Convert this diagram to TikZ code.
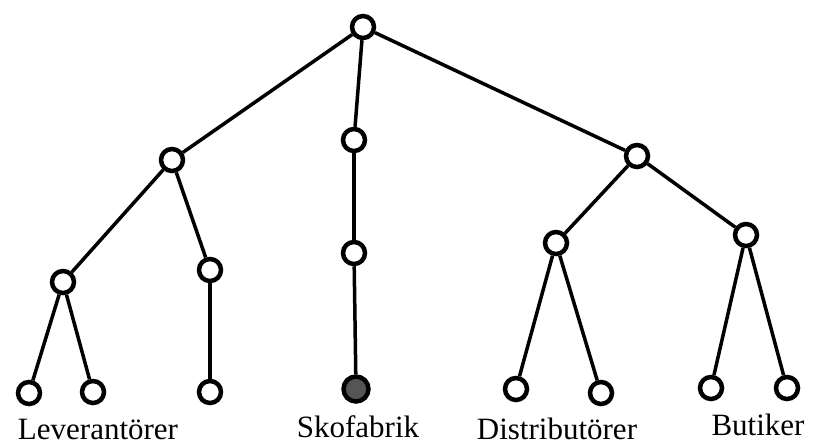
\documentclass[tikz,border=0pt]{standalone}
\usepackage{fontspec}
\setmainfont{Liberation Serif}
\definecolor{fabrikgray}{RGB}{85,85,85}

\begin{document}
\begin{tikzpicture}[x=1pt,y=-1pt,
    knot/.style={circle,draw,line width=4.5pt,fill=white,minimum size=22pt,inner sep=0pt},
    fabrik/.style={knot,fill=fabrikgray,minimum size=25pt},
    lbl/.style={anchor=base,font=\fontsize{31}{31}\selectfont,inner sep=0pt,text depth=0pt},
    every path/.style={line width=3.5pt}]
      \useasboundingbox (0,0) rectangle (814,445);
      % tree nodes
      \node[knot] (top) at (363,27) {};
      \node[knot] (L) at (172,160) {};
      \node[knot] (LL) at (63,282) {};
      \node[knot] (LR) at (210,270) {};
      \node[knot] (L1) at (29,393) {};
      \node[knot] (L2) at (93,392) {};
      \node[knot] (L3) at (210,392) {};
      \node[knot] (M1) at (354,140) {};
      \node[knot] (M2) at (354,253) {};
      \node[fabrik] (S) at (356,389) {};
      \node[knot] (R) at (637,156) {};
      \node[knot] (RL) at (556,243) {};
      \node[knot] (RR) at (746,235) {};
      \node[knot] (D1) at (516,389) {};
      \node[knot] (D2) at (601,393) {};
      \node[knot] (B1) at (711,388) {};
      \node[knot] (B2) at (787,388) {};
      % labels
      \node[lbl] (levtext) at (98,439) {Leverantörer};
      \node[lbl] (skotext) at (358,437) {Skofabrik};
      \node[lbl] (distext) at (557,439) {Distributörer};
      \node[lbl] (buttext) at (758,435) {Butiker};
      % edges
      \draw (top) -- (L);
      \draw (top) -- (M1);
      \draw (top) -- (R);
      \draw (L) -- (LL);
      \draw (L) -- (LR);
      \draw (LL) -- (L1);
      \draw (LL) -- (L2);
      \draw (LR) -- (L3);
      \draw (M1) -- (M2);
      \draw (M2) -- (S);
      \draw (R) -- (RL);
      \draw (R) -- (RR);
      \draw (RL) -- (D1);
      \draw (RL) -- (D2);
      \draw (RR) -- (B1);
      \draw (RR) -- (B2);
    \end{tikzpicture}
\end{document}
